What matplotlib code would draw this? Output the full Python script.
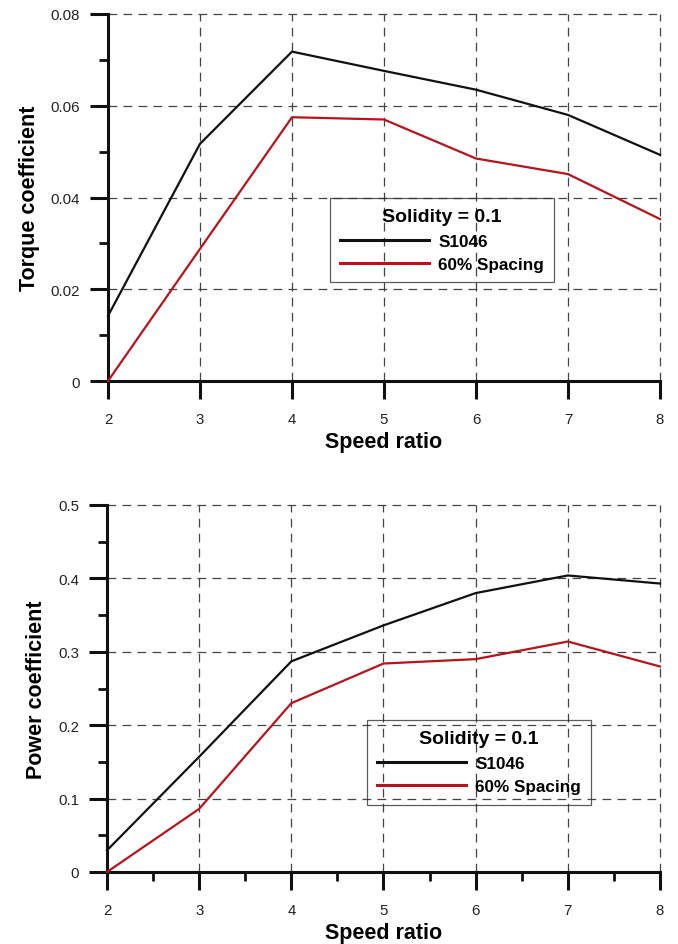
import matplotlib
matplotlib.use("Agg")
import matplotlib.pyplot as plt
from matplotlib.ticker import MultipleLocator, FormatStrFormatter

plt.rcParams['font.family'] = ['Liberation Sans', 'DejaVu Sans']

speed_ratio = [2, 3, 4, 5, 6, 7, 8]

torque_s1046 = [0.0142, 0.0517, 0.0718, 0.0676, 0.0635, 0.0580, 0.0493]
torque_spacing = [0.0, 0.0288, 0.0575, 0.0570, 0.0485, 0.0451, 0.0353]

power_s1046 = [0.0295, 0.157, 0.287, 0.336, 0.380, 0.404, 0.393]
power_spacing = [0.0, 0.086, 0.230, 0.284, 0.290, 0.314, 0.280]

labels = ['S1046', '60% Spacing']
legend_title = 'Solidity = 0.1'
colors = ['#111111', '#b5141c']

fig = plt.figure(figsize=(6.78, 9.45), dpi=100)
ax1 = fig.add_axes([108 / 678, 1 - 382 / 945, 552 / 678, 367 / 945])
ax2 = fig.add_axes([107 / 678, 1 - 873 / 945, 553 / 678, 367 / 945])


def style_axes(ax, ymax, ymajor, yminor, xminor, ylabel):
    ax.set_xlim(2, 8)
    ax.set_ylim(0, ymax)
    ax.xaxis.set_major_locator(MultipleLocator(1))
    ax.yaxis.set_major_locator(MultipleLocator(ymajor))
    ax.yaxis.set_minor_locator(MultipleLocator(yminor))
    if xminor:
        ax.xaxis.set_minor_locator(MultipleLocator(xminor))
    ax.yaxis.set_major_formatter(FormatStrFormatter('%g'))
    for side in ['top', 'right']:
        ax.spines[side].set_visible(False)
    for side in ['left', 'bottom']:
        ax.spines[side].set_linewidth(2.2)
        ax.spines[side].set_color('#111111')
        ax.spines[side].set_zorder(3)
    ax.tick_params(which='major', direction='out', length=13, width=2.2,
                   color='#111111', labelsize=10.8, labelcolor='#222222')
    ax.tick_params(axis='x', which='major', pad=9)
    ax.tick_params(axis='y', which='major', pad=7)
    ax.tick_params(which='minor', direction='out', length=6.5, width=2.0,
                   color='#111111')
    ax.grid(True, which='major', linestyle=(0, (7, 5)), linewidth=0.9,
            color='#444444')
    ax.set_axisbelow(True)
    # keep the grid lines on the upper and right edges whole
    for tick in ax.xaxis.get_major_ticks() + ax.yaxis.get_major_ticks():
        tick.gridline.set_clip_on(False)
    ax.set_xlabel('Speed ratio', fontsize=15.5, fontweight='bold', labelpad=4)
    ax.set_ylabel(ylabel, fontsize=15.5, fontweight='bold', labelpad=8)


style_axes(ax1, 0.08, 0.02, 0.01, None, 'Torque coefficient')
style_axes(ax2, 0.5, 0.1, 0.05, 0.5, 'Power coefficient')

ax1.plot(speed_ratio, torque_s1046, color=colors[0], lw=1.6, label=labels[0], clip_on=False, zorder=4)
ax1.plot(speed_ratio, torque_spacing, color=colors[1], lw=1.6, label=labels[1], clip_on=False, zorder=4)
ax2.plot(speed_ratio, power_s1046, color=colors[0], lw=1.6, label=labels[0], clip_on=False, zorder=4)
ax2.plot(speed_ratio, power_spacing, color=colors[1], lw=1.6, label=labels[1], clip_on=False, zorder=4)

for ax, anchor in [(ax1, (0.402, 0.499)), (ax2, (0.470, 0.414))]:
    leg = ax.legend(loc='upper left', bbox_to_anchor=anchor, title=legend_title,
                    prop={'weight': 'bold', 'size': 12.3},
                    title_fontproperties={'weight': 'bold', 'size': 14},
                    fancybox=False, frameon=True, handlelength=5.2,
                    handletextpad=0.55, labelspacing=0.5, borderpad=0.6,
                    borderaxespad=0)
    leg.get_frame().set_facecolor('none')
    leg.get_frame().set_edgecolor('#333333')
    leg.get_frame().set_linewidth(0.9)
    for line in leg.get_lines():
        line.set_linewidth(2.2)

fig.savefig('out.png', dpi=100)
